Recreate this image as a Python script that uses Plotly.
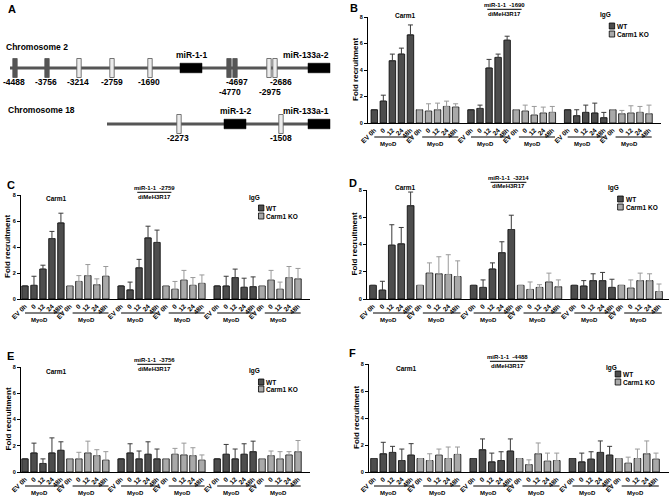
import plotly.graph_objects as go

W, H = 672, 501
FONT = "Liberation Sans, Arial, Helvetica, sans-serif"

# ---------------- data ----------------
conditions = ["EV 0h", "0", "12", "24", "48h"]
antibodies = ["Carm1", "diMeH3R17", "IgG"]
panel_letters = ["B", "C", "D", "E", "F"]
panel_sites = ["-1690", "-2759", "-3214", "-3756", "-4488"]
y_ticks = [0, 2, 4, 6, 8]

# values per panel: [Carm1, diMeH3R17, IgG] x 5 conditions
B_wt = [[1.0, 1.65, 4.7, 5.2, 6.65], [1.0, 1.1, 4.15, 4.95, 6.25], [1.0, 0.55, 0.8, 0.75, 0.4]]
B_wt_err = [[0, 0.45, 0.5, 0.45, 0.75], [0, 0.25, 0.65, 0.25, 0.3], [0, 0.45, 0.55, 0.75, 0.4]]
B_ko = [[1.0, 0.9, 1.0, 1.25, 1.2], [1.0, 0.9, 0.6, 0.75, 0.8], [1.0, 0.7, 0.75, 0.8, 0.7]]
B_ko_err = [[0, 0.55, 0.5, 0.4, 0.25], [0, 0.45, 0.65, 0.45, 0.45], [0, 0.25, 0.55, 0.45, 0.65]]

C_wt = [[1.0, 1.05, 2.3, 4.65, 5.85], [1.0, 0.7, 2.4, 4.7, 4.35], [1.0, 1.0, 1.65, 0.9, 0.95]]
C_wt_err = [[0, 0.7, 0.3, 0.55, 0.75], [0, 0.6, 0.65, 0.9, 0.95], [0, 0.75, 0.65, 0.7, 0.75]]
C_ko = [[1.0, 1.35, 1.8, 1.1, 1.75], [1.0, 0.75, 1.45, 1.05, 1.2], [1.0, 1.45, 0.75, 1.65, 1.55]]
C_ko_err = [[0, 0.45, 0.85, 0.45, 0.75], [0, 0.6, 0.75, 0.6, 0.65], [0, 0.75, 0.55, 0.85, 0.8]]

D_wt = [[1.0, 0.65, 3.95, 4.05, 6.85], [1.0, 0.85, 2.2, 3.4, 5.1], [1.0, 0.95, 1.35, 1.35, 0.85]]
D_wt_err = [[0, 0.65, 1.5, 1.2, 1.0], [0, 0.55, 0.45, 0.8, 1.05], [0, 0.4, 0.5, 0.6, 0.6]]
D_ko = [[1.0, 1.9, 1.85, 1.8, 1.65], [1.0, 0.7, 0.85, 1.25, 0.9], [1.0, 0.8, 1.35, 1.35, 0.55]]
D_ko_err = [[0, 0.75, 1.25, 1.45, 1.15], [0, 0.55, 0.2, 0.65, 0.5], [0, 0.6, 0.55, 0.5, 0.55]]

E_wt = [[1.0, 1.45, 0.65, 1.45, 1.65], [1.0, 1.45, 1.0, 1.35, 1.0], [1.0, 1.35, 1.0, 1.35, 1.55]]
E_wt_err = [[0, 0.75, 0.35, 1.15, 0.65], [0, 0.7, 0.6, 0.95, 0.75], [0, 0.75, 0.75, 0.8, 0.8]]
E_ko = [[1.0, 1.0, 1.45, 1.25, 0.9], [1.0, 1.35, 1.3, 1.25, 0.9], [1.0, 1.25, 1.0, 1.3, 1.55]]
E_ko_err = [[0, 0.5, 0.9, 0.45, 0.65], [0, 0.45, 0.9, 0.6, 0.4], [0, 0.35, 0.55, 0.25, 0.85]]

F_wt = [[1.0, 1.35, 1.45, 0.85, 1.25], [1.0, 1.65, 0.75, 0.85, 1.55], [1.0, 0.75, 0.95, 1.45, 1.25]]
F_wt_err = [[0, 0.85, 0.45, 0.85, 0.85], [0, 0.8, 0.65, 0.65, 0.9], [0, 0.65, 0.55, 0.85, 0.65]]
F_ko = [[1.0, 0.85, 1.25, 1.0, 1.3], [1.0, 0.55, 1.35, 0.8, 0.85], [1.0, 0.65, 1.0, 1.35, 0.95]]
F_ko_err = [[0, 0.5, 0.45, 0.85, 0.55], [0, 0.35, 0.8, 0.6, 0.55], [0, 0.45, 0.7, 0.95, 0.45]]

panels_data = [
    (B_wt, B_wt_err, B_ko, B_ko_err),
    (C_wt, C_wt_err, C_ko, C_ko_err),
    (D_wt, D_wt_err, D_ko, D_ko_err),
    (E_wt, E_wt_err, E_ko, E_ko_err),
    (F_wt, F_wt_err, F_ko, F_ko_err),
]

# Panel A diagram data (diagram coordinates)
chr2_site_labels = ["-4488", "-3756", "-3214", "-2759", "-1690", "-4770", "-4697", "-2975", "-2686"]
chr2_site_pos = [15, 47, 79, 112, 150, 229, 235, 269, 275]
chr2_site_dark = [True, True, False, False, False, True, True, False, False]
chr2_label_row = [0, 0, 0, 0, 0, 1, 0, 1, 0]
chr2_label_dx = [-1, -1, -1, 0, -1, 1, 2, 1, 6]
chr2_genes = ["miR-1-1", "miR-133a-2"]
chr2_gene_span = [(180, 202), (308, 330)]
chr2_extent = (10, 308)

chr18_site_labels = ["-2273", "-1508"]
chr18_site_pos = [179, 281]
chr18_site_dark = [False, False]
chr18_genes = ["miR-1-2", "miR-133a-1"]
chr18_gene_span = [(224, 246), (308, 330)]
chr18_extent = (107, 308)

# ---------------- layout geometry (pixels) ----------------
# L, R, first bar centre, last bar centre, y(8) px, y(0) px
geom = [
    (368, 661, 374.3, 649, 17, 123),
    (21, 310, 25, 298, 195, 299),
    (367, 669, 373, 659, 190, 299),
    (21, 310, 25, 298, 367, 472),
    (369, 669, 374, 656, 364, 472),
]
letter_pos = [(349, 8), (6, 185), (348, 183), (6, 356), (348, 353)]
title_y = [15, 198, 188, 371, 368]
center_title_y = [5, 188, 178, 360, 357]
legend_y = [(26, 34), (208, 216), (199, 207), (382, 389), (374, 382)]

GROUP_PITCH = 10.7
WT_COLOR = "#4d4d4d"
KO_COLOR = "#a9a9a9"


def px(xp):
    return xp / W


def py(yp):
    return 1 - yp / H


def ann(text, x, y, xref="paper", yref="paper", size=6, xanchor="center", yanchor="middle", **kw):
    d = dict(text=text, x=x, y=y, xref=xref, yref=yref, showarrow=False, borderpad=0,
             xanchor=xanchor, yanchor=yanchor, font=dict(size=size, family=FONT, color="black"))
    d.update(kw)
    return d


fig = go.Figure()
layout = dict(
    width=W, height=H, margin=dict(l=0, r=0, t=0, b=0, pad=0), autosize=False,
    paper_bgcolor="white", plot_bgcolor="white", showlegend=False,
    font=dict(family=FONT, color="black"),
)
annotations = []
shapes = []

last_x = 2 * GROUP_PITCH + 9

for k in range(5):
    L, R, c0, c1, yt, yb = geom[k]
    u = last_x / (c1 - c0)
    xr = [-(c0 - L) * u, last_x + (R - c1) * u]
    ax = "" if k == 0 else str(k + 1)
    xname, yname = "x" + ax, "y" + ax
    wt, wt_err, ko, ko_err = panels_data[k]

    xs_wt, ys_wt, es_wt, xs_ko, ys_ko, es_ko = [], [], [], [], [], []
    tickvals, ticktext = [], []
    for g in range(3):
        for i in range(5):
            xs_wt.append(g * GROUP_PITCH + i)
            ys_wt.append(wt[g][i])
            es_wt.append(wt_err[g][i])
            xs_ko.append(g * GROUP_PITCH + 5 + i)
            ys_ko.append(ko[g][i])
            es_ko.append(ko_err[g][i])
        for i in range(10):
            tickvals.append(g * GROUP_PITCH + i)
            ticktext.append("<b>" + conditions[i % 5] + "</b>")

    fig.add_trace(go.Bar(
        x=xs_wt, y=ys_wt, name="WT", xaxis=xname, yaxis=yname, width=0.72,
        marker=dict(color=WT_COLOR, line=dict(color="black", width=0.8)),
        error_y=dict(type="data", array=es_wt, arrayminus=[0] * 15, symmetric=False,
                     color="#3a3a3a", thickness=1, width=2.5),
    ))
    fig.add_trace(go.Bar(
        x=xs_ko, y=ys_ko, name="Carm1 KO", xaxis=xname, yaxis=yname, width=0.72,
        marker=dict(color=KO_COLOR, line=dict(color="black", width=0.8)),
        error_y=dict(type="data", array=es_ko, arrayminus=[0] * 15, symmetric=False,
                     color="#9a9a9a", thickness=1, width=2.5),
    ))

    layout["xaxis" + ax] = dict(
        domain=[px(L), px(R)], range=xr, anchor=yname, automargin=False,
        showline=True, linecolor="black", linewidth=1.2, ticks="",
        tickmode="array", tickvals=tickvals, ticktext=ticktext, tickangle=-45,
        tickfont=dict(size=6.5, family=FONT), showgrid=False, zeroline=False, fixedrange=True,
    )
    layout["yaxis" + ax] = dict(
        domain=[py(yb), py(yt)], range=[0, 8], anchor=xname, automargin=False,
        showline=True, linecolor="black", linewidth=1.2, ticks="outside", ticklen=3,
        tickwidth=1, tickcolor="black",
        tickmode="array", tickvals=y_ticks, ticktext=["<b>%d</b>" % v for v in y_ticks],
        tickfont=dict(size=5.5, family=FONT), showgrid=False, zeroline=False, fixedrange=True,
    )

    # panel letter
    annotations.append(ann("<b>%s</b>" % panel_letters[k], px(letter_pos[k][0]), py(letter_pos[k][1]),
                           size=11, xanchor="left"))
    # y title
    annotations.append(ann("<b>Fold recruitment</b>", px(L - 13), py((yt + yb) / 2), size=8, textangle=-90))
    # group titles
    annotations.append(ann("<b>Carm1</b>", 3.5, py(title_y[k]), xref=xname, size=6.5))
    annotations.append(ann("<b>IgG</b>", 25.6, py(title_y[k]), xref=xname, size=6.5))
    annotations.append(ann("<b>miR-1-1  %s</b>" % panel_sites[k], 14.4, py(center_title_y[k]),
                           xref=xname, size=6))
    annotations.append(ann("<b>diMeH3R17</b>", 14.4, py(center_title_y[k] + 8.5), xref=xname, size=6))
    shapes.append(dict(type="line", xref=xname, yref="paper", x0=14.4 - 1.9, x1=14.4 + 1.9,
                       y0=py(center_title_y[k] + 4.3), y1=py(center_title_y[k] + 4.3),
                       line=dict(color="black", width=1)))
    # MyoD brackets
    for g in range(3):
        for (a, b, m) in [(0.0, 4.2, 1.6), (5.3, 9.3, 6.8)]:
            shapes.append(dict(type="line", xref=xname, yref="paper",
                               x0=g * GROUP_PITCH + a, x1=g * GROUP_PITCH + b,
                               y0=py(yb + 14), y1=py(yb + 14), line=dict(color="black", width=1)))
            annotations.append(ann("<b>MyoD</b>", g * GROUP_PITCH + m, py(yb + 21), xref=xname, size=6))
    # legend (manual, compact)
    for j, (nm, colr) in enumerate([("WT", WT_COLOR), ("Carm1 KO", KO_COLOR)]):
        yy = legend_y[k][j]
        shapes.append(dict(type="rect", xref=xname, yref="paper", x0=26.0, x1=26.6,
                           y0=py(yy + 3), y1=py(yy - 3), fillcolor=colr,
                           line=dict(color="black", width=0.8)))
        annotations.append(ann("<b>%s</b>" % nm, 26.75, py(yy), xref=xname, size=6.5, xanchor="left"))

# ---------------- Panel A ----------------
layout["xaxis6"] = dict(domain=[0, 336 / W], range=[0, 336], anchor="y6", visible=False, fixedrange=True,
                        automargin=False)
layout["yaxis6"] = dict(domain=[1 - 160 / H, 1], range=[160, 0], anchor="x6", visible=False, fixedrange=True,
                        automargin=False)

CHR_COLOR = "#555555"
A_FONT = 8.5
chr_y = [68, 124]
fig.add_trace(go.Scatter(x=list(chr2_extent), y=[chr_y[0]] * 2, mode="lines", xaxis="x6", yaxis="y6",
                         line=dict(color=CHR_COLOR, width=3), hoverinfo="skip"))
fig.add_trace(go.Scatter(x=list(chr18_extent), y=[chr_y[1]] * 2, mode="lines", xaxis="x6", yaxis="y6",
                         line=dict(color=CHR_COLOR, width=3), hoverinfo="skip"))


def add_sites(positions, labels, dark, rows, dxs, cy):
    for p, lab, d, r, dx in zip(positions, labels, dark, rows, dxs):
        shapes.append(dict(type="rect", xref="x6", yref="y6", x0=p - 2.2, x1=p + 2.2,
                           y0=cy - 9.5, y1=cy + 9.5,
                           fillcolor=CHR_COLOR if d else "#ececec",
                           line=dict(color=CHR_COLOR, width=0.8)))
        annotations.append(ann("<b>%s</b>" % lab, p + dx, cy + 14 + 10 * r, xref="x6", yref="y6", size=A_FONT))


def add_genes(names, spans, cy):
    for nm, (a, b) in zip(names, spans):
        shapes.append(dict(type="rect", xref="x6", yref="y6", x0=a, x1=b, y0=cy - 4.8, y1=cy + 4.8,
                           fillcolor="black", line=dict(color="black", width=0.5)))
        if b >= 329:
            annotations.append(ann("<b>%s</b>" % nm, b, cy - 13, xref="x6", yref="y6", size=A_FONT,
                                   xanchor="right"))
        else:
            annotations.append(ann("<b>%s</b>" % nm, (a + b) / 2, cy - 13, xref="x6", yref="y6", size=A_FONT))


add_sites(chr2_site_pos, chr2_site_labels, chr2_site_dark, chr2_label_row, chr2_label_dx, chr_y[0])
add_sites(chr18_site_pos, chr18_site_labels, chr18_site_dark, [0, 0], [-1, 0], chr_y[1])
add_genes(chr2_genes, chr2_gene_span, chr_y[0])
add_genes(chr18_genes, chr18_gene_span, chr_y[1])

annotations.append(ann("<b>Chromosome 2</b>", 5, 47, xref="x6", yref="y6", size=A_FONT, xanchor="left"))
annotations.append(ann("<b>Chromosome 18</b>", 7, 110, xref="x6", yref="y6", size=A_FONT, xanchor="left"))
annotations.append(ann("<b>A</b>", px(7), py(9), size=11, xanchor="left"))

layout["annotations"] = annotations
layout["shapes"] = shapes
fig.update_layout(**layout)
fig.write_html("out.html", config={"displayModeBar": False},
               post_script="document.body.style.margin='0';document.body.style.overflow='hidden';")
